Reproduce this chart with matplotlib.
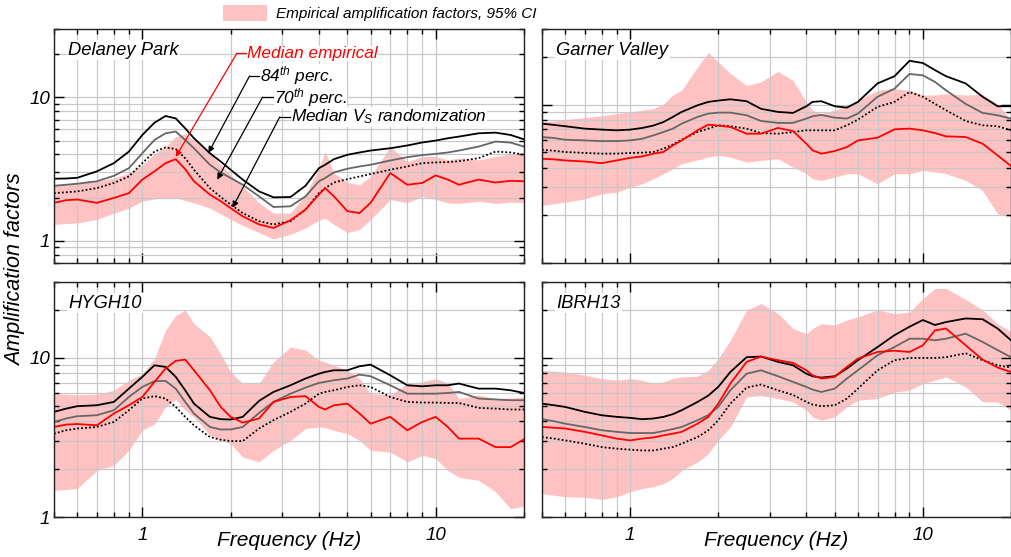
import matplotlib
matplotlib.use('Agg')
import matplotlib.pyplot as plt
import numpy as np
from matplotlib.patches import Patch
from matplotlib.ticker import LogLocator, NullFormatter

# frequency grid (Hz) shared by all the curves
freq = [0.5, 0.55, 0.6, 0.7, 0.8, 0.9, 1.0, 1.1, 1.2, 1.3, 1.4, 1.5,
        1.7, 1.85, 2.0, 2.2, 2.5, 2.8, 3.2, 3.6, 4.0, 4.2, 4.5, 5.0,
        5.5, 6.0, 7.0, 8.0, 9.0, 10, 11, 12, 14, 16, 18, 20]

# Delaney Park
dp_lo = [1.30, 1.32, 1.33, 1.41, 1.56, 1.69, 1.89, 1.96, 1.99, 1.99, 1.91, 1.84,
         1.69, 1.54, 1.41, 1.28, 1.14, 1.03, 1.11, 1.23, 1.39, 1.44, 1.30, 1.14,
         1.20, 1.41, 1.94, 1.84, 2.04, 1.94, 1.84, 1.82, 1.89, 1.82, 1.86, 1.84]
dp_hi = [2.46, 2.49, 2.53, 2.60, 2.74, 2.97, 3.39, 4.04, 4.54, 5.33, 5.56, 5.05,
         4.08, 3.39, 2.89, 2.40, 1.84, 1.56, 1.56, 2.10, 3.21, 4.19, 2.97, 2.55,
         2.46, 2.81, 4.54, 3.57, 3.87, 3.87, 3.67, 3.77, 3.67, 3.87, 4.04, 3.98]
dp_emp = [1.84, 1.92, 1.94, 1.84, 1.99, 2.15, 2.67, 3.05, 3.48, 3.71, 3.16, 2.60,
          2.10, 1.89, 1.69, 1.48, 1.30, 1.23, 1.39, 1.65, 2.10, 2.33, 2.04, 1.61,
          1.56, 1.84, 2.97, 2.46, 2.53, 2.86, 2.67, 2.46, 2.67, 2.55, 2.62, 2.60]
dp_p84 = [2.71, 2.72, 2.75, 3.05, 3.48, 4.19, 5.47, 6.66, 7.42, 7.14, 6.09, 5.19,
          4.08, 3.57, 3.13, 2.67, 2.21, 2.01, 2.02, 2.42, 3.21, 3.39, 3.71, 3.98,
          4.13, 4.26, 4.42, 4.62, 4.85, 5.00, 5.19, 5.33, 5.62, 5.68, 5.47, 5.10]
dp_p70 = [2.42, 2.46, 2.50, 2.60, 2.84, 3.21, 4.08, 5.05, 5.62, 5.78, 5.05, 4.42,
          3.39, 3.00, 2.74, 2.46, 2.04, 1.72, 1.74, 2.04, 2.60, 2.74, 3.00, 3.18,
          3.30, 3.39, 3.63, 3.83, 3.96, 4.04, 4.13, 4.26, 4.54, 4.92, 4.84, 4.54]
dp_vs = [2.15, 2.18, 2.21, 2.33, 2.53, 2.81, 3.48, 4.19, 4.48, 4.36, 3.77, 3.13,
         2.33, 2.02, 1.79, 1.56, 1.37, 1.30, 1.37, 1.65, 2.15, 2.33, 2.55, 2.69,
         2.81, 2.92, 3.13, 3.30, 3.48, 3.52, 3.54, 3.59, 3.77, 4.19, 4.13, 3.98]

# Garner Valley
gv_lo = [2.31, 2.37, 2.42, 2.54, 2.73, 2.80, 3.01, 3.16, 3.40, 3.66, 3.93, 4.23,
         4.48, 4.66, 4.78, 4.66, 4.33, 4.44, 4.55, 4.03, 3.66, 3.40, 3.32, 3.49,
         3.66, 3.66, 3.16, 3.66, 3.66, 3.84, 3.75, 3.66, 3.32, 2.87, 2.04, 1.95]
gv_hi = [7.77, 7.88, 8.04, 8.28, 8.48, 8.77, 8.99, 9.21, 9.43, 10.1, 11.5, 12.3,
         17.3, 21.3, 18.6, 15.7, 13.2, 13.9, 16.2, 14.2, 10.4, 9.21, 8.77, 9.21,
         9.90, 10.6, 12.3, 12.6, 12.3, 11.5, 11.5, 11.7, 11.5, 11.6, 10.1, 7.96]
gv_emp = [4.55, 4.51, 4.44, 4.37, 4.27, 4.44, 4.61, 4.71, 4.90, 5.02, 5.53, 5.94,
          6.88, 7.47, 7.37, 7.22, 6.55, 6.55, 7.12, 6.81, 5.66, 5.14, 4.90, 5.09,
          5.39, 5.94, 6.18, 6.98, 7.05, 6.88, 6.61, 6.30, 6.24, 5.66, 4.78, 4.09]
gv_p84 = [7.58, 7.44, 7.30, 7.05, 6.95, 6.88, 6.95, 7.12, 7.37, 7.76, 8.36, 8.99,
          9.90, 10.4, 10.6, 10.8, 10.5, 9.40, 8.99, 8.86, 9.76, 10.4, 10.5, 9.76,
          9.57, 10.4, 13.6, 15.1, 18.9, 18.3, 16.5, 15.1, 13.6, 11.2, 9.76, 9.76]
gv_p70 = [6.24, 6.15, 6.00, 5.94, 5.88, 5.88, 5.94, 6.09, 6.39, 6.71, 7.05, 7.58,
          8.36, 8.77, 8.90, 8.90, 8.56, 7.88, 7.66, 7.66, 8.16, 8.44, 8.60, 8.27,
          8.16, 8.77, 11.2, 12.6, 15.6, 15.3, 13.9, 12.3, 10.1, 8.86, 8.56, 8.16]
gv_vs = [5.19, 5.11, 5.02, 4.95, 4.90, 4.90, 4.95, 4.97, 5.02, 5.27, 5.60, 6.00,
         6.71, 7.05, 7.40, 7.30, 7.05, 6.61, 6.55, 6.71, 6.88, 6.88, 6.88, 6.88,
         7.40, 8.04, 9.67, 10.4, 12.0, 11.2, 10.1, 9.21, 7.88, 7.40, 7.30, 6.88]

# HYGH10
hy_lo = [1.47, 1.49, 1.51, 1.96, 2.11, 2.62, 3.51, 3.84, 4.92, 5.48, 4.69, 4.26,
         3.26, 3.03, 2.89, 2.38, 2.22, 2.62, 3.03, 3.60, 3.68, 3.64, 3.51, 3.34,
         3.03, 2.62, 2.56, 2.22, 2.44, 2.33, 1.96, 1.78, 1.70, 1.44, 1.13, 1.17]
hy_hi = [5.96, 5.91, 5.85, 5.91, 6.26, 7.24, 7.96, 9.90, 14.9, 18.5, 20.0, 16.4,
         13.6, 10.6, 8.16, 6.90, 6.90, 9.44, 11.7, 11.2, 9.67, 9.44, 8.99, 8.36,
         7.42, 5.96, 5.85, 6.90, 7.07, 7.42, 6.94, 5.55, 5.85, 5.55, 5.60, 5.68]
hy_emp = [3.68, 3.81, 3.84, 3.77, 4.47, 5.04, 5.68, 7.07, 8.57, 9.58, 9.76, 8.36,
          6.26, 4.92, 4.26, 3.92, 4.16, 5.29, 5.68, 5.75, 4.92, 4.74, 5.04, 5.16,
          4.47, 3.86, 4.26, 3.51, 3.96, 4.26, 3.68, 3.11, 3.11, 2.75, 2.75, 3.08]
hy_p84 = [4.58, 4.80, 4.97, 5.04, 5.29, 6.41, 7.60, 8.99, 8.78, 7.60, 6.26, 5.16,
          4.26, 4.12, 4.10, 4.26, 5.37, 6.11, 6.73, 7.42, 7.96, 8.16, 8.36, 8.36,
          8.86, 9.07, 7.78, 6.73, 6.63, 6.73, 6.73, 6.90, 6.41, 6.41, 6.26, 6.02]
hy_p70 = [3.96, 4.16, 4.30, 4.36, 4.69, 5.68, 6.57, 7.14, 7.17, 6.41, 5.29, 4.47,
          3.68, 3.55, 3.55, 3.68, 4.51, 5.29, 5.96, 6.51, 6.96, 7.07, 7.24, 7.42,
          7.85, 7.67, 6.73, 5.96, 5.96, 5.96, 6.02, 6.11, 5.55, 5.48, 5.42, 5.42]
hy_vs = [3.34, 3.51, 3.60, 3.68, 3.96, 4.69, 5.55, 5.75, 5.55, 4.92, 4.26, 3.77,
         3.18, 3.06, 3.00, 3.00, 3.60, 4.06, 4.58, 5.16, 5.96, 6.11, 6.26, 6.57,
         6.73, 6.57, 5.68, 5.29, 5.24, 5.24, 5.21, 5.21, 4.85, 4.80, 4.74, 4.74]

# IBRH13
ib_lo = [1.40, 1.37, 1.34, 1.33, 1.29, 1.34, 1.44, 1.51, 1.55, 1.62, 1.75, 1.96,
         2.22, 2.50, 3.03, 3.68, 5.68, 5.80, 5.55, 5.29, 4.69, 4.26, 4.06, 4.26,
         4.92, 5.42, 5.55, 6.11, 6.26, 6.90, 7.24, 7.60, 6.57, 5.29, 5.29, 4.69]
ib_hi = [8.36, 8.24, 8.16, 7.78, 7.42, 7.24, 7.42, 7.24, 6.90, 7.07, 7.42, 7.60,
         7.67, 8.36, 9.90, 12.9, 20.0, 22.0, 19.0, 15.3, 14.2, 15.3, 16.4, 16.1,
         17.3, 18.1, 20.0, 19.0, 19.4, 23.6, 27.3, 27.3, 23.3, 20.0, 16.4, 14.6]
ib_emp = [3.68, 3.64, 3.60, 3.43, 3.26, 3.11, 3.03, 3.11, 3.16, 3.26, 3.34, 3.43,
          3.86, 4.26, 5.16, 6.90, 9.44, 10.2, 9.67, 9.30, 8.36, 7.78, 7.42, 7.60,
          8.78, 9.90, 10.9, 11.1, 10.9, 12.0, 14.9, 15.3, 12.0, 9.76, 8.70, 8.16]
ib_p84 = [5.16, 5.04, 4.92, 4.58, 4.36, 4.26, 4.20, 4.12, 4.16, 4.26, 4.43, 4.69,
          5.29, 5.80, 6.57, 8.16, 10.1, 10.2, 9.44, 8.99, 7.96, 7.67, 7.52, 7.67,
          8.57, 9.67, 11.7, 13.9, 15.7, 17.3, 16.1, 16.8, 17.7, 17.5, 15.3, 12.9]
ib_p70 = [4.12, 4.00, 3.86, 3.68, 3.51, 3.43, 3.37, 3.37, 3.37, 3.47, 3.57, 3.68,
          4.06, 4.37, 4.92, 6.26, 7.96, 8.36, 7.67, 7.07, 6.57, 6.32, 6.11, 6.41,
          7.42, 8.36, 10.4, 11.7, 13.2, 13.2, 12.9, 13.2, 14.2, 12.6, 11.2, 10.1]
ib_vs = [3.18, 3.11, 3.03, 2.89, 2.75, 2.69, 2.65, 2.62, 2.62, 2.69, 2.75, 2.89,
         3.18, 3.51, 4.06, 5.16, 6.51, 6.80, 6.26, 5.85, 5.29, 5.09, 4.97, 5.04,
         5.55, 6.41, 8.36, 9.67, 10.0, 10.0, 10.0, 10.1, 10.7, 9.67, 8.99, 8.70]

sites = ['Delaney Park', 'Garner Valley', 'HYGH10', 'IBRH13']
bands = [(dp_lo, dp_hi), (gv_lo, gv_hi), (hy_lo, hy_hi), (ib_lo, ib_hi)]
curves = [(dp_emp, dp_p84, dp_p70, dp_vs), (gv_emp, gv_p84, gv_p70, gv_vs),
          (hy_emp, hy_p84, hy_p70, hy_vs), (ib_emp, ib_p84, ib_p70, ib_vs)]

pink = '#ffc2c2'
gray = '#666666'

plt.rcParams['font.family'] = ['Liberation Sans', 'DejaVu Sans']
plt.rcParams['font.style'] = 'italic'
plt.rcParams['mathtext.fontset'] = 'custom'
plt.rcParams['mathtext.it'] = 'Liberation Sans:italic'
plt.rcParams['mathtext.rm'] = 'Liberation Sans:italic'
plt.rcParams['axes.axisbelow'] = True

fig = plt.figure(figsize=(10.12, 5.57), dpi=100)
W, H = 1012, 557
# axes boxes in pixels: left, top, right, bottom
boxes_px = [(54, 29, 524, 263), (542, 29, 1011, 263),
            (54, 282, 524, 517), (542, 282, 1011, 517)]

axes = []
for i in range(4):
    l, t, r, b = boxes_px[i]
    ax = fig.add_axes([l / W, 1 - b / H, (r - l) / W, (b - t) / H])
    axes.append(ax)
    lo, hi = bands[i]
    emp, p84, p70, vs = curves[i]
    ax.fill_between(freq, lo, hi, color=pink, lw=0, zorder=0.2)
    ax.plot(freq, p84, color='k', lw=1.3, zorder=2)
    ax.plot(freq, p70, color=gray, lw=1.3, zorder=2)
    ax.plot(freq, vs, color='k', lw=1.3, ls=(0, (1, 1.2)), zorder=2)
    ax.plot(freq, emp, color='red', lw=1.3, zorder=2.5)

    ax.set_xscale('log')
    ax.set_yscale('log')
    ax.set_xlim(0.5, 20)
    ax.set_ylim(0.7 if i == 0 else 1, 30)

    ax.set_xticks([1, 10])
    ax.set_yticks([1, 10])
    ax.xaxis.set_minor_locator(LogLocator(subs=np.arange(2, 10)))
    ax.yaxis.set_minor_locator(LogLocator(subs=np.arange(2, 10)))
    ax.xaxis.set_minor_formatter(NullFormatter())
    ax.yaxis.set_minor_formatter(NullFormatter())
    ax.set_xticklabels(['1', '10'] if i >= 2 else [])
    ax.set_yticklabels(['1', '10'] if i % 2 == 0 else [])
    ax.tick_params(which='both', direction='in', top=True, right=True,
                   width=1, labelsize=13.5)
    ax.tick_params(which='major', length=7)
    ax.tick_params(which='minor', length=3.5)
    ax.tick_params(axis='x', pad=7)
    ax.tick_params(axis='y', pad=3)
    ax.grid(True, which='both', color='#c8c8c8', lw=0.9)
    for s in ax.spines.values():
        s.set_linewidth(1.0)
        s.set_color('#222222')

    ax.text(0.03, 0.91, sites[i], transform=ax.transAxes, fontsize=13.2,
            va='center', ha='left', zorder=5,
            bbox=dict(facecolor='white', edgecolor='none', pad=1))
    if i >= 2:
        ax.text(0.5, -0.1, 'Frequency (Hz)', transform=ax.transAxes,
                fontsize=15, ha='center', va='center')

# labels with arrows in the Delaney Park panel
ax = axes[0]
wbox = dict(facecolor='white', edgecolor='none', pad=0.1)
notes = [('Median empirical', 'red', (1.30, 3.85), (2.10, 20.3), 2.25),
         (r'84$^{th}$ perc.', 'k', (1.68, 4.10), (2.32, 14.1), 2.49),
         (r'70$^{th}$ perc.', 'k', (1.80, 2.67), (2.57, 10.05), 2.78),
         (r'Median $V_S$ randomization', 'k', (2.03, 1.70), (2.94, 7.30), 3.18)]
for label, c, tip, corner, xtext in notes:
    ax.text(xtext * 1.01, corner[1], label, color=c, fontsize=12.4,
            va='center', ha='left', zorder=4, bbox=wbox)
    ax.plot([corner[0], xtext], [corner[1], corner[1]], color=c, lw=0.9,
            zorder=6)
    ax.annotate('', xy=tip, xytext=corner, zorder=6,
                arrowprops=dict(arrowstyle='-|>', color=c, lw=0.9,
                                shrinkA=0, shrinkB=0, mutation_scale=9))

fig.text(16 / W, 1 - 270 / H, 'Amplification factors', rotation=90,
         fontsize=15.5, ha='center', va='center')

fig.legend(handles=[Patch(facecolor=pink, edgecolor='none',
                          label='Empirical amplification factors, 95% CI')],
           loc='center', bbox_to_anchor=(380 / W, 1 - 13 / H), frameon=False,
           fontsize=11, handlelength=2.9, handleheight=1.2, handletextpad=0.6,
           borderpad=0, borderaxespad=0)

fig.savefig('out.png', dpi=100)
